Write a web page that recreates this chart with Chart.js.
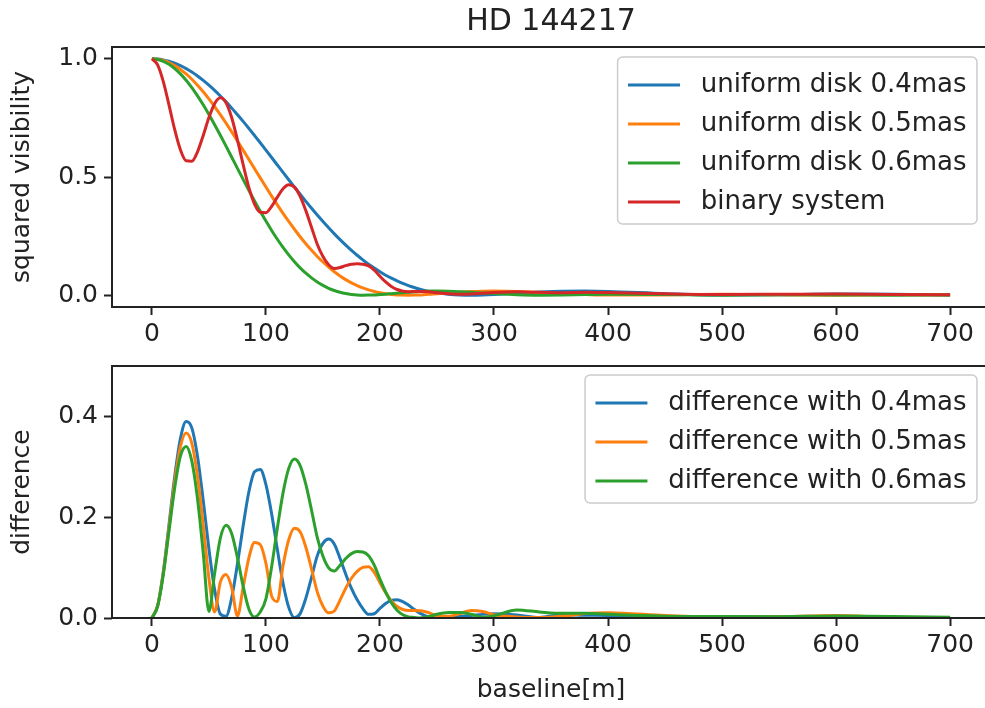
<!DOCTYPE html>
<html>
<head>
<meta charset="utf-8">
<title>HD 144217</title>
<script src="https://cdn.jsdelivr.net/npm/chart.js@4.4.1/dist/chart.umd.min.js"></script>
<style>
  html, body { margin: 0; padding: 0; background: #fff; overflow: hidden; }
  #wrap { position: relative; width: 985px; height: 708px; overflow: hidden; }
  canvas { position: absolute; left: 0; }
  #visChart { top: 0; }
  #diffChart { top: 345px; }
</style>
</head>
<body>
<div id="wrap">
  <canvas id="visChart" width="995" height="345"></canvas>
  <canvas id="diffChart" width="995" height="363"></canvas>
</div>
<script>
// baseline in metres
const baseline = [0, 5, 10, 15, 20, 25, 30, 35, 40, 45, 50, 55, 60, 65, 70, 75, 80, 85, 90, 95,
  100, 105, 110, 115, 120, 125, 130, 135, 140, 145, 150, 155, 160, 165, 170, 175, 180, 185, 190, 195,
  200, 205, 210, 215, 220, 225, 230, 235, 240, 245, 250,
  260, 270, 280, 290, 300, 320, 340, 360, 380, 400, 450, 500, 550, 600, 650, 700];

// squared visibility
const disk04 = [1.0, 0.9988, 0.9953, 0.9895, 0.9814, 0.9711, 0.9586, 0.944, 0.9274, 0.9089, 0.8885, 0.8664, 0.8428, 0.8178, 0.7914, 0.7636, 0.7353, 0.7057, 0.6755, 0.645,
  0.6138, 0.5824, 0.5509, 0.5195, 0.4884, 0.4576, 0.4269, 0.3969, 0.3676, 0.3391, 0.312, 0.2854, 0.2595, 0.2351, 0.2118, 0.1896, 0.169, 0.1496, 0.1312, 0.1145,
  0.099, 0.0846, 0.072, 0.0604, 0.0497, 0.0405, 0.0325, 0.0253, 0.0193, 0.0143, 0.0101,
  0.0042, 0.0009, 0.0, 0.0008, 0.0027, 0.008, 0.013, 0.0166, 0.0174, 0.016, 0.0065, 0.0005, 0.0015, 0.0045, 0.0035, 0.001];
const disk05 = [1.0, 0.9982, 0.9927, 0.9836, 0.9711, 0.9551, 0.9359, 0.9137, 0.8885, 0.8607, 0.8305, 0.7981, 0.7636, 0.7279, 0.6908, 0.6526, 0.6138, 0.5746, 0.5353, 0.4962,
  0.4576, 0.4192, 0.3821, 0.3462, 0.312, 0.2789, 0.2471, 0.2174, 0.1896, 0.1639, 0.1404, 0.1187, 0.099, 0.0815, 0.0659, 0.0521, 0.0405, 0.0306, 0.0223, 0.0155,
  0.0101, 0.006, 0.0031, 0.0012, 0.0003, 0.0001, 0.0005, 0.0012, 0.0028, 0.0043, 0.0058,
  0.0095, 0.0127, 0.0154, 0.0168, 0.0174, 0.016, 0.011, 0.0065, 0.003, 0.0006, 0.0012, 0.0041, 0.0013, 0.0002, 0.0018, 0.0013];
const disk06 = [1.0, 0.9974, 0.9896, 0.9766, 0.9588, 0.9362, 0.9092, 0.8781, 0.8433, 0.8053, 0.7644, 0.7214, 0.6766, 0.6305, 0.5836, 0.5365, 0.4898, 0.4436, 0.3984, 0.3548,
  0.3134, 0.2739, 0.2366, 0.2021, 0.1704, 0.1416, 0.1157, 0.0928, 0.073, 0.0558, 0.0413, 0.0293, 0.0198, 0.0124, 0.007, 0.0033, 0.001, 0.0001, 0.0003, 0.0011,
  0.0027, 0.0044, 0.0065, 0.0086, 0.0106, 0.0126, 0.0141, 0.0156, 0.0165, 0.0172, 0.0174,
  0.0168, 0.015, 0.0124, 0.0094, 0.0066, 0.002, 0.0, 0.0008, 0.0024, 0.0037, 0.0024, 0.0001, 0.0013, 0.0012, 0.0, 0.0007];
const binary = [1.0, 0.9743, 0.9035, 0.8041, 0.7004, 0.6151, 0.5687, 0.5668, 0.6067, 0.6758, 0.7515, 0.8101, 0.8348, 0.8143, 0.7509, 0.6565, 0.5529, 0.4558, 0.3853, 0.3506,
  0.3492, 0.3758, 0.4147, 0.4504, 0.4673, 0.457, 0.4182, 0.3578, 0.2868, 0.2158, 0.1638, 0.1289, 0.113, 0.117, 0.125, 0.131, 0.133, 0.131, 0.124, 0.106,
  0.08, 0.056, 0.037, 0.024, 0.0171, 0.0149, 0.0153, 0.0157, 0.0151, 0.0131, 0.01,
  0.006, 0.004, 0.005, 0.008, 0.011, 0.014, 0.012, 0.01, 0.012, 0.011, 0.006, 0.003, 0.004, 0.005, 0.003, 0.002];

// difference between binary and each disk
const diff04 = [0, 0.0245, 0.0918, 0.1854, 0.281, 0.356, 0.3899, 0.3772, 0.3207, 0.2331, 0.137, 0.0563, 0.008, 0.0035, 0.0405, 0.1071, 0.1824, 0.2499, 0.2902, 0.2944,
  0.2646, 0.2066, 0.1362, 0.0691, 0.0211, 0.0006, 0.0087, 0.0391, 0.0808, 0.1233, 0.1482, 0.1565, 0.1465, 0.1181, 0.0868, 0.0586, 0.036, 0.0186, 0.0072, 0.0085,
  0.019, 0.0286, 0.035, 0.0364, 0.0326, 0.0256, 0.0172, 0.0096, 0.0042, 0.0012, 0.0001,
  0.0018, 0.0031, 0.005, 0.0072, 0.0083, 0.006, 0.001, 0.0066, 0.0054, 0.005, 0.0005, 0.0025, 0.0025, 0.0005, 0.0005, 0.001];
const diff05 = [0, 0.0239, 0.0892, 0.1795, 0.2707, 0.34, 0.3672, 0.3469, 0.2818, 0.1849, 0.079, 0.012, 0.0712, 0.0864, 0.0601, 0.0039, 0.0609, 0.1188, 0.15, 0.1456,
  0.1084, 0.0434, 0.0326, 0.1042, 0.1553, 0.1781, 0.1711, 0.1404, 0.0972, 0.0519, 0.0234, 0.0102, 0.014, 0.0355, 0.0591, 0.0789, 0.0925, 0.1004, 0.1017, 0.0905,
  0.0699, 0.05, 0.0339, 0.0228, 0.0168, 0.0148, 0.0148, 0.0145, 0.0123, 0.0088, 0.0042,
  0.0035, 0.0087, 0.015, 0.013, 0.0064, 0.002, 0.001, 0.0035, 0.009, 0.0104, 0.0048, 0.0011, 0.0027, 0.0048, 0.0012, 0.0007];
const diff06 = [0, 0.0231, 0.0861, 0.1725, 0.2584, 0.3211, 0.3405, 0.3113, 0.2366, 0.1295, 0.0129, 0.0887, 0.1582, 0.1838, 0.1673, 0.12, 0.0631, 0.018, 0.002, 0.012,
  0.038, 0.1019, 0.1781, 0.2483, 0.2969, 0.3154, 0.3025, 0.265, 0.2138, 0.16, 0.1225, 0.0996, 0.0932, 0.1046, 0.118, 0.1277, 0.132, 0.1309, 0.1237, 0.1049,
  0.0773, 0.0516, 0.0305, 0.0154, 0.0065, 0.0023, 0.0012, 0.0001, 0.0014, 0.0041, 0.0074,
  0.0108, 0.011, 0.0074, 0.0014, 0.0044, 0.016, 0.012, 0.0092, 0.0096, 0.0073, 0.0036, 0.0029, 0.0027, 0.0038, 0.003, 0.0013];

const xTicks = [0, 100, 200, 300, 400, 500, 600, 700];
const visTicks = [0.0, 0.5, 1.0];
const diffTicks = [0.0, 0.2, 0.4];

const visLabels = ['uniform disk 0.4mas', 'uniform disk 0.5mas', 'uniform disk 0.6mas', 'binary system'];
const diffLabels = ['difference with 0.4mas', 'difference with 0.5mas', 'difference with 0.6mas'];

const blue = '#1f77b4', orange = '#ff7f0e', green = '#2ca02c', red = '#d62728';

Chart.defaults.font.family = '"DejaVu Sans", sans-serif';
Chart.defaults.color = '#222';

function pts(ys) {
  return baseline.map((b, i) => ({x: b, y: ys[i]}));
}

function line(label, ys, color, order) {
  return {
    label: label,
    data: pts(ys),
    borderColor: color,
    backgroundColor: color,
    borderWidth: 3,
    pointRadius: 0,
    cubicInterpolationMode: 'monotone',
    fill: false,
    order: order
  };
}

// frame round the plot and a matplotlib-like legend box
const frameLegend = {
  id: 'frameLegend',
  afterDraw(chart, args, opts) {
    const ctx = chart.ctx;
    const a = chart.chartArea;
    ctx.save();
    ctx.strokeStyle = '#222';
    ctx.lineWidth = 2;
    ctx.strokeRect(a.left, a.top, a.right - a.left, a.bottom - a.top);

    const fs = 26;
    ctx.font = fs + 'px "DejaVu Sans"';
    const labels = opts.labels;
    const tw = Math.max(...labels.map(t => ctx.measureText(t).width));
    const w = fs * 0.4 + fs * 2 + fs * 0.8 + tw + fs * 0.4;
    const x1 = a.right - 13;
    const x0 = x1 - w;
    const y0 = a.top + opts.top;
    const h = 28 + 39 * (labels.length - 1) + 22;

    ctx.beginPath();
    ctx.roundRect(x0, y0, w, h, 5);
    ctx.fillStyle = 'rgba(255,255,255,0.8)';
    ctx.fill();
    ctx.strokeStyle = '#cccccc';
    ctx.lineWidth = 1.5;
    ctx.stroke();

    labels.forEach((t, i) => {
      const y = y0 + 28 + 39 * i;
      ctx.beginPath();
      ctx.moveTo(x0 + fs * 0.4, y);
      ctx.lineTo(x0 + fs * 2.4, y);
      ctx.strokeStyle = opts.colors[i];
      ctx.lineWidth = 3;
      ctx.stroke();
      ctx.fillStyle = '#222';
      ctx.textBaseline = 'middle';
      ctx.textAlign = 'left';
      ctx.fillText(t, x0 + fs * 3.2, y);
    });
    ctx.restore();
  }
};

function makeOptions(cfg) {
  return {
    responsive: false,
    animation: false,
    layout: {padding: {left: 0, right: 5, top: cfg.padTop, bottom: 0}},
    plugins: {
      legend: {display: false},
      tooltip: {enabled: false},
      title: cfg.title ? {
        display: true,
        text: cfg.title,
        fullSize: false,
        color: '#222',
        font: {size: 30, weight: 'normal'},
        padding: {top: 4, bottom: 7}
      } : {display: false},
      frameLegend: {labels: cfg.labels, colors: cfg.colors, top: cfg.legendTop}
    },
    scales: {
      x: {
        type: 'linear',
        min: -35,
        max: 735,
        afterBuildTicks: s => { s.ticks = xTicks.map(v => ({value: v})); },
        afterFit: s => { s.height = cfg.xHeight; },
        grid: {drawOnChartArea: false, drawTicks: true, tickLength: 8, tickWidth: 2, tickColor: '#222'},
        border: {display: false},
        ticks: {autoSkip: false, maxRotation: 0, padding: 4, font: {size: 25}, callback: v => String(v)},
        title: cfg.xTitle ? {display: true, text: cfg.xTitle, font: {size: 25}, padding: {top: 0, bottom: 3}} : {display: false}
      },
      y: {
        min: cfg.yMin,
        max: cfg.yMax,
        afterBuildTicks: s => { s.ticks = cfg.yTicks.map(v => ({value: v})); },
        afterFit: s => { s.width = 112; },
        grid: {drawOnChartArea: false, drawTicks: true, tickLength: 8, tickWidth: 2, tickColor: '#222'},
        border: {display: false},
        ticks: {padding: 6, font: {size: 25}, callback: v => v.toFixed(1)},
        title: {display: true, text: cfg.yTitle, font: {size: 25}, padding: {top: 7, bottom: 0}}
      }
    }
  };
}

new Chart(document.getElementById('visChart'), {
  type: 'line',
  data: {
    datasets: [
      line(visLabels[0], disk04, blue, 4),
      line(visLabels[1], disk05, orange, 3),
      line(visLabels[2], disk06, green, 2),
      line(visLabels[3], binary, red, 1)
    ]
  },
  options: makeOptions({
    title: 'HD 144217',
    padTop: 0,
    xHeight: 38,
    yMin: -0.05,
    yMax: 1.05,
    yTicks: visTicks,
    yTitle: 'squared visibility',
    labels: visLabels,
    colors: [blue, orange, green, red],
    legendTop: 10
  }),
  plugins: [frameLegend]
});

new Chart(document.getElementById('diffChart'), {
  type: 'line',
  data: {
    datasets: [
      line(diffLabels[0], diff04, blue, 3),
      line(diffLabels[1], diff05, orange, 2),
      line(diffLabels[2], diff06, green, 1)
    ]
  },
  options: makeOptions({
    padTop: 15,
    xHeight: 90,
    xTitle: 'baseline[m]',
    yMin: 0,
    yMax: 0.5,
    yTicks: diffTicks,
    yTitle: 'difference',
    labels: diffLabels,
    colors: [blue, orange, green],
    legendTop: 9
  }),
  plugins: [frameLegend]
});
</script>
</body>
</html>
